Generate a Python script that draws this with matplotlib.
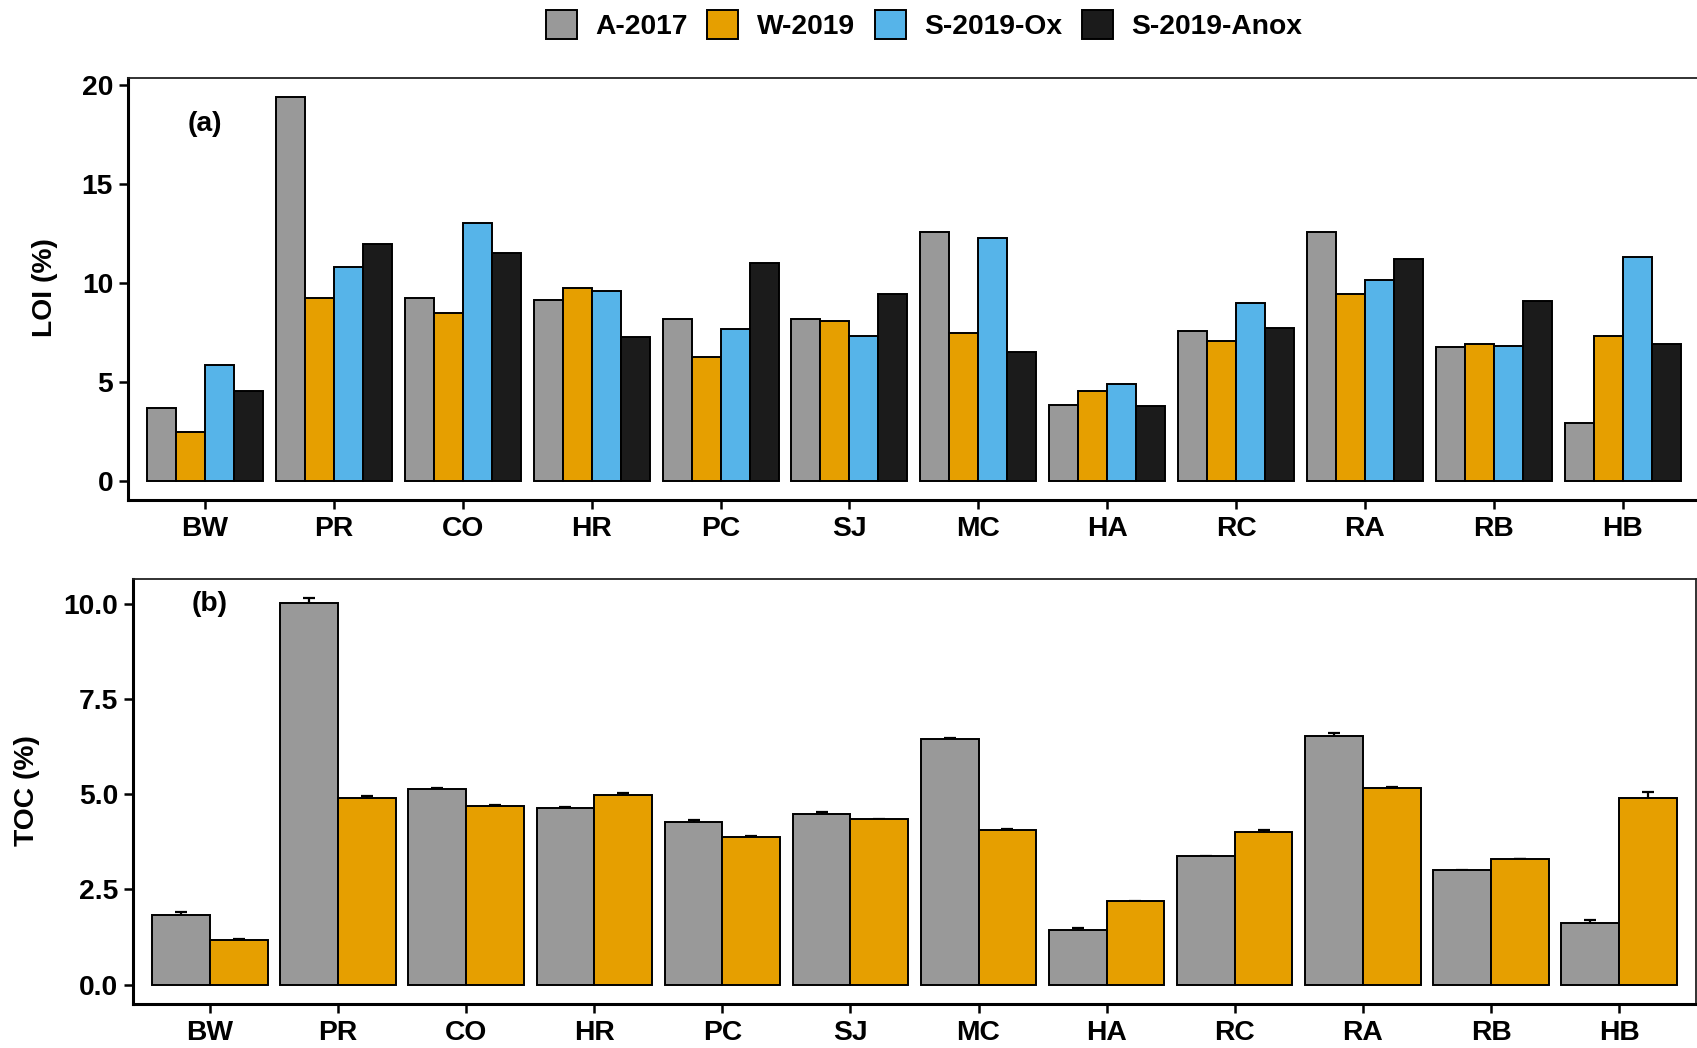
import numpy as np
import matplotlib
matplotlib.use("Agg")
import matplotlib.pyplot as plt
from matplotlib.patches import Patch

# Sites and sampling campaigns
sites = ["BW", "PR", "CO", "HR", "PC", "SJ", "MC", "HA", "RC", "RA", "RB", "HB"]
campaigns = ["A-2017", "W-2019", "S-2019-Ox", "S-2019-Anox"]
colors = ["#999999", "#E69F00", "#56B4E9", "#1B1B1B"]

# Loss on ignition (%)
loi_a2017 = [3.66, 19.37, 9.24, 9.12, 8.19, 8.17, 12.56, 3.83, 7.55, 12.56, 6.77, 2.92]
loi_w2019 = [2.49, 9.21, 8.49, 9.72, 6.25, 8.05, 7.45, 4.56, 7.08, 9.44, 6.90, 7.32]
loi_s2019_ox = [5.83, 10.79, 13.03, 9.59, 7.69, 7.30, 12.26, 4.91, 8.96, 10.14, 6.82, 11.30]
loi_s2019_anox = [4.51, 11.98, 11.50, 7.28, 11.01, 9.42, 6.48, 3.76, 7.72, 11.19, 9.06, 6.93]

# Total organic carbon (%) with standard errors
toc_a2017 = [1.82, 10.02, 5.13, 4.64, 4.27, 4.49, 6.45, 1.43, 3.37, 6.52, 3.00, 1.63]
toc_a2017_se = [0.10, 0.12, 0.03, 0.02, 0.05, 0.03, 0.02, 0.06, 0.02, 0.09, 0.01, 0.06]
toc_w2019 = [1.18, 4.90, 4.69, 4.99, 3.87, 4.34, 4.06, 2.19, 4.02, 5.15, 3.30, 4.89]
toc_w2019_se = [0.03, 0.04, 0.03, 0.04, 0.03, 0.02, 0.02, 0.01, 0.05, 0.03, 0.01, 0.18]

plt.rcParams["font.family"] = ["Liberation Sans", "DejaVu Sans"]
plt.rcParams["font.weight"] = "bold"
FS = 20.3

W, H = 1697, 1048
fig = plt.figure(figsize=(W / 100, H / 100), dpi=100)

ax_a = fig.add_axes([127.7 / W, 1 - 500 / H, (1700 - 127.7) / W, (500 - 78) / H])
ax_b = fig.add_axes([133 / W, 1 - 1004 / H, (1696 - 133) / W, (1004 - 579) / H])

x = np.arange(len(sites))


def style_axes(ax):
    for side in ["left", "bottom"]:
        ax.spines[side].set_linewidth(2.2)
        ax.spines[side].set_color("black")
    for side in ["top", "right"]:
        ax.spines[side].set_linewidth(1.3)
        ax.spines[side].set_color("#222222")
    ax.tick_params(axis="both", length=6.5, width=1.8, color="black",
                   labelsize=FS, pad=4)
    ax.tick_params(axis="x", pad=5)
    ax.set_xticks(x)
    ax.set_xticklabels(sites, fontweight="bold")
    ax.set_xlim(-0.6, len(sites) - 0.4)
    for lbl in ax.get_yticklabels():
        lbl.set_fontweight("bold")


# (a) LOI, four campaigns dodged within each site
loi_series = [loi_a2017, loi_w2019, loi_s2019_ox, loi_s2019_anox]
bw = 0.9 / len(loi_series)
for i, (vals, col) in enumerate(zip(loi_series, colors)):
    offs = -0.45 + bw * (i + 0.5)
    ax_a.bar(x + offs, vals, width=bw, color=col, edgecolor="black",
             linewidth=1.4, zorder=2)
ymax_a = max(max(s) for s in loi_series)
ax_a.set_ylim(-0.05 * ymax_a, ymax_a * 1.05)
ax_a.set_yticks([0, 5, 10, 15, 20])
ax_a.set_yticklabels(["0", "5", "10", "15", "20"])
style_axes(ax_a)
ax_a.text(0, 18.0, "(a)", ha="center", va="center", fontsize=FS, fontweight="bold")

# (b) TOC, two campaigns with error bars
toc_series = [(toc_a2017, toc_a2017_se), (toc_w2019, toc_w2019_se)]
bw2 = 0.9 / len(toc_series)
top_b = 0
for i, ((vals, se), col) in enumerate(zip(toc_series, colors[:2])):
    offs = -0.45 + bw2 * (i + 0.5)
    ax_b.errorbar(x + offs, vals, yerr=se, fmt="none", ecolor="black",
                  elinewidth=1.6, capsize=4, capthick=1.6, zorder=1)
    ax_b.bar(x + offs, vals, width=bw2, color=col, edgecolor="black",
             linewidth=1.4, zorder=2)
    top_b = max(top_b, max(v + s for v, s in zip(vals, se)))
ax_b.set_ylim(-0.05 * top_b, top_b * 1.05)
ax_b.set_yticks([0, 2.5, 5, 7.5, 10])
ax_b.set_yticklabels(["0.0", "2.5", "5.0", "7.5", "10.0"])
style_axes(ax_b)
ax_b.text(0, 10.0, "(b)", ha="center", va="center", fontsize=FS, fontweight="bold")

# Axis titles
fig.text(45.5 / W, 1 - 288 / H, "LOI (%)", rotation=90, ha="center", va="center",
         fontsize=FS, fontweight="bold")
fig.text(27 / W, 1 - 791 / H, "TOC (%)", rotation=90, ha="center", va="center",
         fontsize=FS, fontweight="bold")

# Shared legend across the top
handles = [Patch(facecolor=c, edgecolor="black", linewidth=1.4, label=l)
           for c, l in zip(colors, campaigns)]
fig.legend(handles=handles, loc="center", bbox_to_anchor=(924 / W, 1 - 25 / H),
           ncol=4, frameon=False, prop={"weight": "bold", "size": FS},
           handlelength=1.1, handleheight=1.2, handletextpad=0.65,
           columnspacing=0.7, borderpad=0)

fig.savefig("out.png", dpi=100)
